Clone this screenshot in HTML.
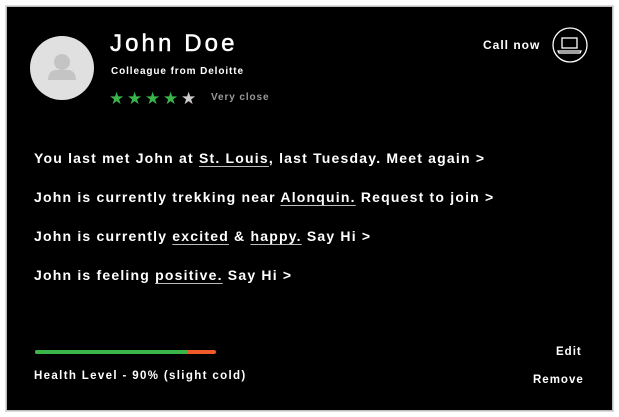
<!DOCTYPE html>
<html><head><meta charset="utf-8"><style>
*{margin:0;padding:0;box-sizing:border-box}
body{width:619px;height:417px;background:#fff;font-family:"Liberation Sans",sans-serif;position:relative;overflow:hidden}
#card{position:absolute;left:6px;top:6px;width:607px;height:405px;background:#000;border:1px solid #bbb;box-shadow:0 0 0 1px #ddd}
.t{position:absolute;color:#fff;white-space:nowrap;letter-spacing:0.6px;font-weight:bold}
.u{text-decoration:underline;text-underline-offset:3px;text-decoration-color:#bbb}
.l{font-size:14px;letter-spacing:1.2px}
</style></head><body>
<div id="card"></div>
<svg style="position:absolute;left:0;top:0" width="619" height="417">
<g>
<circle cx="62" cy="68" r="32" fill="#e0e0e0"/>
<circle cx="62" cy="62" r="8" fill="#c4c4c4"/>
<path d="M48 80 Q48 70 57 70 L67 70 Q76 70 76 80 Z" fill="#c4c4c4"/>
</g>
<g fill="none" stroke="#fff">
<circle cx="570" cy="45" r="17" stroke-width="1.3"/>
<rect x="562" y="38" width="15" height="10" stroke-width="1.3"/>
<path d="M558 51 L581 51 L580 53 L559 53 Z" stroke-width="1.2"/>
</g>
<g font-size="17">
<text x="109" y="104" fill="#3bb54a">★</text>
<text x="127" y="104" fill="#3bb54a">★</text>
<text x="145" y="104" fill="#3bb54a">★</text>
<text x="163" y="104" fill="#3bb54a">★</text>
<text x="181" y="104" fill="#ccc">★</text>
</g>
<g>
<line x1="37" y1="352" x2="214" y2="352" stroke="#f05a28" stroke-width="4" stroke-linecap="round"/>
<line x1="37" y1="352" x2="186" y2="352" stroke="#3bb54a" stroke-width="4" stroke-linecap="round"/>
</g>
</svg>
<div class="t" style="left:110px;top:30px;font-size:24px;letter-spacing:3.1px;font-weight:normal;-webkit-text-stroke:0.5px #fff">John Doe</div>
<div class="t" style="left:111px;top:66px;font-size:10px;letter-spacing:0.9px">Colleague from Deloitte</div>
<div class="t" style="left:211px;top:92px;font-size:10px;color:#999;letter-spacing:0.9px">Very close</div>
<div class="t" style="left:483px;top:38px;font-size:12px;letter-spacing:1px">Call now</div>
<div class="t l" style="left:34px;top:150px">You last met John at <span class="u">St. Louis</span>, last Tuesday. Meet again &gt;</div>
<div class="t l" style="left:34px;top:189px">John is currently trekking near <span class="u">Alonquin.</span> Request to join &gt;</div>
<div class="t l" style="left:34px;top:228px">John is currently <span class="u">excited</span> &amp; <span class="u">happy.</span> Say Hi &gt;</div>
<div class="t l" style="left:34px;top:267px">John is feeling <span class="u">positive.</span> Say Hi &gt;</div>
<div class="t" style="left:34px;top:370px;font-size:11.5px;letter-spacing:1.35px">Health Level - 90% (slight cold)</div>
<div class="t" style="left:556px;top:346px;font-size:11.5px;letter-spacing:1px">Edit</div>
<div class="t" style="left:533px;top:374px;font-size:11.5px;letter-spacing:1px">Remove</div>
</body></html>
